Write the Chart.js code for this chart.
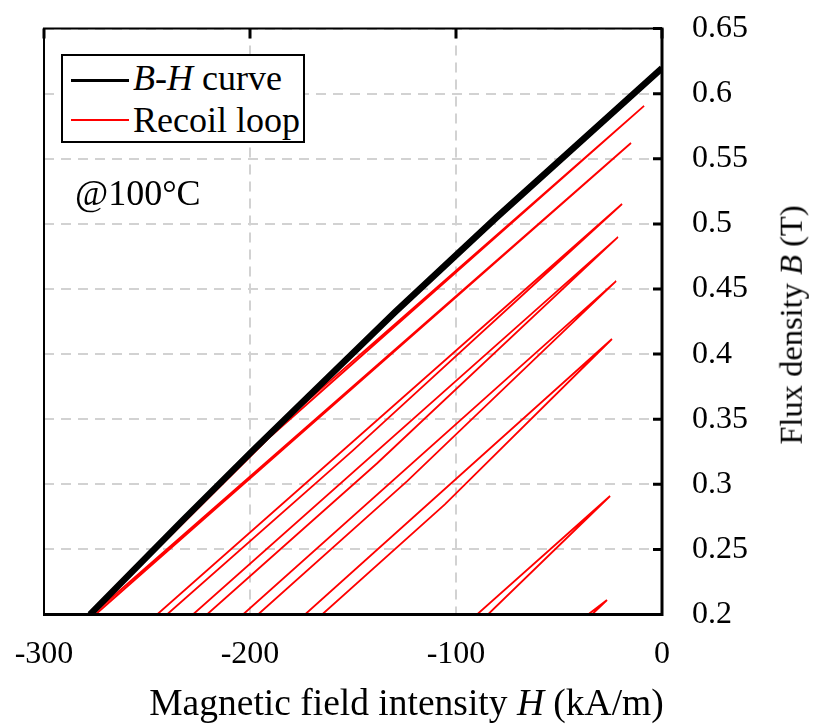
<!DOCTYPE html>
<html>
<head>
<meta charset="utf-8">
<script src="https://cdn.jsdelivr.net/npm/chart.js@4.4.1/dist/chart.umd.min.js"></script>
<style>
  html, body { margin: 0; padding: 0; background: #fff; }
  #wrap { position: relative; width: 813px; height: 728px; font-family: 'Liberation Serif', 'Times New Roman', serif; color: #000; }
  #wrap canvas { position: absolute; left: 0; top: 0; }
  .txt { position: absolute; white-space: nowrap; line-height: 1; }
  #legend { position: absolute; left: 61px; top: 54px; width: 244px; height: 89px; border: 2px solid #000; box-sizing: border-box; background: #fff; }
  .swatch { position: absolute; left: 71px; width: 58px; }
</style>
</head>
<body>
<div id="wrap">
  <canvas id="bh" width="813" height="728"></canvas>
  <div id="legend"></div>
  <div class="swatch" style="top:79px;height:3px;background:#000"></div>
  <div class="swatch" style="top:119px;height:2px;background:#f00"></div>
  <div class="txt" style="left:133px;top:60px;font-size:36px"><i>B</i>-<i>H</i> curve</div>
  <div class="txt" style="left:133px;top:102px;font-size:36px">Recoil loop</div>
  <div class="txt" style="left:75px;top:175px;font-size:36px">@100°C</div>
  <div class="txt" style="left:0;width:813px;text-align:center;top:684px;font-size:37.5px">Magnetic field intensity <i>H</i> (kA/m)</div>
  <div class="txt" style="left:791px;top:325px;font-size:32.5px;transform:translate(-50%,-50%) rotate(-90deg)">Flux density <i>B</i> (T)</div>
</div>
<script>
// B-H curve at 100 C (H in kA/m, B in T)
const bhH = [-277.7, -232.5, -198.5, -129.6, -80.1, 0];
const bhB = [0.200, 0.2726, 0.3262, 0.4322, 0.5053, 0.6197];

// recoil loops: left branch up to the tip, then right branch back down
const recoilH = [
  [-277.5, -191.0, -8.7, -189.5, -277.0],
  [-276.5, -15.05, -275.0],
  [-245.1, -19.4, -150.0, -240.3],
  [-227.7, -21.4, -138.4, -220.9],
  [-203.4, -22.3, -123.7, -196.1],
  [-173.3, -24.3, -105.4, -165.0],
  [-89.8, -25.2, -84.5],
  [-35.9, -26.7, -34.0]
];
const recoilB = [
  [0.2, 0.338, 0.5906, 0.3375, 0.2],
  [0.2, 0.5621, 0.2],
  [0.2, 0.5153, 0.326, 0.2],
  [0.2, 0.4899, 0.316, 0.2],
  [0.2, 0.4561, 0.3024, 0.2],
  [0.2, 0.4116, 0.2846, 0.2],
  [0.2, 0.291, 0.2],
  [0.2, 0.2111, 0.2]
];

const xTicks = [-300, -200, -100, 0];
const yTicks = [0.2, 0.25, 0.3, 0.35, 0.4, 0.45, 0.5, 0.55, 0.6, 0.65];

const toPts = (h, b) => h.map((v, i) => ({ x: v, y: b[i] }));

const datasets = [{
  label: 'B-H curve',
  data: toPts(bhH, bhB),
  borderColor: '#000',
  borderWidth: 6.5,
  showLine: true,
  clip: 0
}];
recoilH.forEach((h, i) => datasets.push({
  label: 'Recoil loop',
  data: toPts(h, recoilB[i]),
  borderColor: '#ff0000',
  borderWidth: 1.8,
  showLine: true,
  clip: 0
}));

// box round the plot and inward tick marks (right and top)
const frameTicks = {
  id: 'frameTicks',
  afterDatasetsDraw(chart) {
    const { ctx, chartArea: a, scales: { x, y } } = chart;
    ctx.save();
    ctx.strokeStyle = '#000';
    ctx.lineWidth = 3;
    ctx.beginPath();
    yTicks.forEach(v => {
      const py = y.getPixelForValue(v);
      ctx.moveTo(a.right - 9, py);
      ctx.lineTo(a.right, py);
    });
    xTicks.forEach(v => {
      const px = x.getPixelForValue(v);
      ctx.moveTo(px, a.top);
      ctx.lineTo(px, a.top + 10);
    });
    ctx.stroke();
    ctx.lineWidth = 2;
    ctx.beginPath();
    ctx.moveTo(a.left, a.bottom);
    ctx.lineTo(a.left, a.top);
    ctx.lineTo(a.right, a.top);
    ctx.stroke();
    ctx.lineWidth = 3;
    ctx.beginPath();
    ctx.moveTo(a.right, a.top - 1);
    ctx.lineTo(a.right, a.bottom);
    ctx.lineTo(a.left - 1, a.bottom);
    ctx.stroke();
    ctx.restore();
  }
};

// labels may hang outside the plot box; keep the box where the padding says
const noLabelPad = s => {
  s.paddingTop = 0;
  s.paddingBottom = 0;
  s.paddingLeft = 0;
  s.paddingRight = 0;
};

Chart.defaults.font.family = "'Liberation Serif', 'Times New Roman', serif";
Chart.defaults.color = '#000';

new Chart(document.getElementById('bh'), {
  type: 'scatter',
  data: { datasets },
  options: {
    responsive: false,
    animation: false,
    devicePixelRatio: 1,
    layout: { padding: { left: 44, top: 28.6, right: 0, bottom: 0 } },
    elements: { point: { radius: 0 }, line: { tension: 0 } },
    plugins: { legend: { display: false }, tooltip: { enabled: false } },
    scales: {
      x: {
        type: 'linear',
        min: -300,
        max: 0,
        afterBuildTicks: s => { s.ticks = xTicks.map(v => ({ value: v })); },
        ticks: { padding: 21, font: { size: 32 }, color: '#000' },
        grid: { color: '#d2d2d2', lineWidth: 2, drawTicks: false },
        border: { display: false, dash: [10, 7] },
        afterFit: s => { s.height = 113.5; noLabelPad(s); }
      },
      y: {
        type: 'linear',
        position: 'right',
        min: 0.2,
        max: 0.65,
        afterBuildTicks: s => { s.ticks = yTicks.map(v => ({ value: v })); },
        ticks: { padding: 30, font: { size: 32 }, color: '#000', callback: v => String(v) },
        grid: { color: '#d2d2d2', lineWidth: 2, drawTicks: false },
        border: { display: false, dash: [10, 7] },
        afterFit: s => { s.width = 151; noLabelPad(s); }
      }
    }
  },
  plugins: [frameTicks]
});
</script>
</body>
</html>
